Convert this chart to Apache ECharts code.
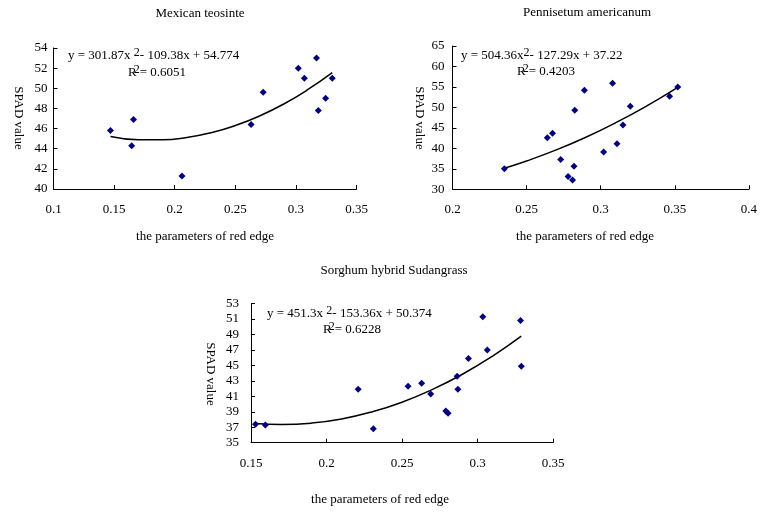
<!DOCTYPE html>
<html>
<head>
<meta charset="utf-8">
<script src="https://cdn.jsdelivr.net/npm/echarts@6/dist/echarts.min.js"></script>
<style>html,body{margin:0;padding:0;background:#fff}#c{width:760px;height:513px}</style>
</head>
<body>
<div id="c"></div>
<script>
// Mexican teosinte
const mxX = [0.147, 0.166, 0.1645, 0.206, 0.263, 0.273, 0.302, 0.307, 0.317, 0.3185, 0.3245, 0.330];
const mxY = [45.8, 46.9, 44.3, 41.3, 46.4, 49.6, 52.0, 51.0, 53.0, 47.8, 49.0, 51.0];
const mxTrendX = [0.147, 0.17, 0.19, 0.21, 0.23, 0.25, 0.27, 0.29, 0.31, 0.33];
const mxTrendY = [45.22, 44.90, 44.89, 45.12, 45.59, 46.30, 47.25, 48.44, 49.88, 51.55];
// Pennisetum americanum
const peX = [0.235, 0.264, 0.2675, 0.273, 0.278, 0.281, 0.282, 0.2825, 0.289, 0.302, 0.308, 0.311, 0.315, 0.320, 0.3465, 0.352];
const peY = [35.0, 42.6, 43.7, 37.3, 33.1, 32.3, 35.6, 49.3, 54.2, 39.1, 55.9, 41.1, 45.7, 50.3, 52.7, 55.0];
const peTrendX = [0.235, 0.25, 0.27, 0.29, 0.31, 0.33, 0.352];
const peTrendY = [35.16, 36.92, 39.62, 42.72, 46.23, 50.14, 54.91];
// Sorghum hybrid Sudangrass
const shX = [0.153, 0.1595, 0.221, 0.231, 0.254, 0.263, 0.269, 0.279, 0.2805, 0.2865, 0.287, 0.294, 0.3035, 0.3065, 0.3285, 0.329];
const shY = [37.4, 37.3, 41.9, 36.8, 42.3, 42.7, 41.3, 39.1, 38.8, 43.6, 41.9, 45.9, 51.3, 47.0, 50.8, 44.9];
const shTrendX = [0.153, 0.17, 0.19, 0.21, 0.23, 0.25, 0.27, 0.29, 0.31, 0.329];
const shTrendY = [37.48, 37.35, 37.53, 38.07, 38.98, 40.24, 41.87, 43.85, 46.20, 48.77];

const titles = ['Mexican teosinte', 'Pennisetum americanum', 'Sorghum hybrid Sudangrass'];
const xName = 'the parameters of red edge';
const yName = 'SPAD value';
const eqs = [
  ['y = 301.87x ', '2', '- 109.38x + 54.774', '0.6051'],
  ['y = 504.36x', '2', '- 127.29x + 37.22', '0.4203'],
  ['y = 451.3x ', '2', '- 153.36x + 50.374', '0.6228']
];

const FONT = '"Liberation Serif", "Times New Roman", serif';
const zip = (a, b) => a.map((v, i) => [v, b[i]]);

const grids = [
  {left: 53.5, top: 48, width: 303, height: 141},
  {left: 452.5, top: 46, width: 300, height: 143.3},
  {left: 251, top: 303.5, width: 302, height: 139.2}
];
const xr = [[0.1, 0.35], [0.2, 0.4], [0.15, 0.35]];
const yr = [[40, 54, 2], [30, 65, 5], [35, 53, 2]];
const yLabelMargin = [6, 8, 12];

const axisCommon = {
  axisLine: {lineStyle: {color: '#000', width: 1}},
  axisTick: {inside: true, length: 4, lineStyle: {color: '#000'}},
  splitLine: {show: false},
  axisLabel: {color: '#000', fontFamily: FONT, fontSize: 13, showMinLabel: true, showMaxLabel: true}
};

const xAxis = xr.map((r, i) => Object.assign({}, axisCommon, {
  type: 'value', gridIndex: i, min: r[0], max: r[1], interval: 0.05,
  axisLabel: Object.assign({}, axisCommon.axisLabel, {margin: 14, formatter: v => String(parseFloat(v.toFixed(2)))})
}));
const yAxis = yr.map((r, i) => Object.assign({}, axisCommon, {
  type: 'value', gridIndex: i, min: r[0], max: r[1], interval: r[2],
  axisLabel: Object.assign({}, axisCommon.axisLabel, {margin: yLabelMargin[i]})
}));

const sets = [[mxX, mxY, mxTrendX, mxTrendY], [peX, peY, peTrendX, peTrendY], [shX, shY, shTrendX, shTrendY]];
const series = [];
sets.forEach((s, i) => {
  series.push({
    type: 'line', xAxisIndex: i, yAxisIndex: i, data: zip(s[2], s[3]), smooth: true,
    showSymbol: false, lineStyle: {color: '#000', width: 1.5}, silent: true, z: 2
  });
  series.push({
    type: 'scatter', xAxisIndex: i, yAxisIndex: i, data: zip(s[0], s[1]),
    symbol: 'diamond', symbolSize: 7, itemStyle: {color: '#000088', opacity: 1}, z: 3
  });
});

const txt = (x, y, text, extra) => ({
  type: 'text', x: x, y: y,
  style: Object.assign({text: text, fill: '#000', font: '13px ' + FONT, align: 'center', verticalAlign: 'middle'}, extra || {})
});

const titlePos = [[200, 14], [587, 13], [394, 271]];
const xNamePos = [[205, 237], [585, 237], [380, 500]];
const yNamePos = [[18, 118], [419, 118], [210, 374]];
const eqPos = [[68, 56], [461, 56], [267, 314]];
const r2Pos = [[128, 73], [517, 72], [323, 330]];

const graphic = [];
for (let i = 0; i < 3; i++) {
  graphic.push(txt(titlePos[i][0], titlePos[i][1], titles[i]));
  graphic.push(txt(xNamePos[i][0], xNamePos[i][1], xName));
  graphic.push(txt(yNamePos[i][0], yNamePos[i][1], yName, {}));
  graphic[graphic.length - 1].rotation = -Math.PI / 2;
  graphic.push({
    type: 'text', x: eqPos[i][0], y: eqPos[i][1] - 9,
    style: {
      text: '{t|' + eqs[i][0] + '}{s|' + eqs[i][1] + '}{t|' + eqs[i][2] + '}',
      rich: {
        t: {fontFamily: FONT, fontSize: 13, lineHeight: 18, fill: '#000'},
        s: {fontFamily: FONT, fontSize: 12, lineHeight: 10, verticalAlign: 'top', fill: '#000'}
      },
      align: 'left', verticalAlign: 'top'
    }
  });
  graphic.push({
    type: 'text', x: r2Pos[i][0], y: r2Pos[i][1] - 9,
    style: {
      text: '{t|R}{s|2}{t|= ' + eqs[i][3] + '}',
      rich: {
        t: {fontFamily: FONT, fontSize: 13, lineHeight: 18, fill: '#000'},
        s: {fontFamily: FONT, fontSize: 12, lineHeight: 10, verticalAlign: 'top', fill: '#000', padding: [0, 0, 0, -3]}
      },
      align: 'left', verticalAlign: 'top'
    }
  });
}

const chart = echarts.init(document.getElementById('c'), null, {renderer: 'canvas'});
chart.setOption({
  animation: false,
  backgroundColor: '#fff',
  textStyle: {fontFamily: FONT},
  grid: grids,
  xAxis: xAxis,
  yAxis: yAxis,
  series: series,
  graphic: graphic
});
</script>
</body>
</html>
